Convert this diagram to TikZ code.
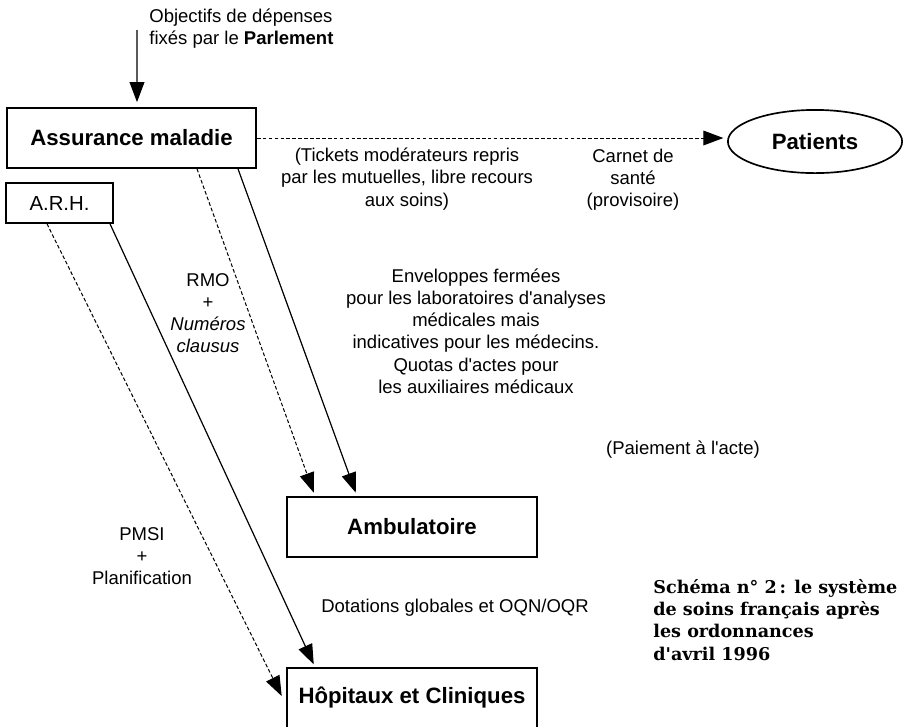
\documentclass[tikz,border=0pt]{standalone}
\usepackage{fontspec}
\setmainfont{Liberation Sans}
\newfontfamily\legende{DejaVu Serif}
\usetikzlibrary{arrows.meta,shapes.geometric,calc}

\begin{document}
\begin{tikzpicture}[x=0.019cm,y=-0.019cm,
    >={Triangle[length=3.8mm,width=2.8mm]},
    boite/.style={draw,line width=0.9pt,inner sep=0pt,font=\large\bfseries},
    txt/.style={align=center,inner sep=0pt},
    tiret/.style={dash pattern=on 2pt off 1.2pt,line width=0.55pt},
    trait/.style={line width=0.65pt}]
    \useasboundingbox (0,0) rectangle (908,726);

    \node[txt,align=left,anchor=west] (obj) at (149,29) {Objectifs de dépenses\\fixés par le \textbf{Parlement}};
    \coordinate (haut) at (137,30);

    \node[boite,minimum width=4.73cm,minimum height=1.14cm] (am) at (131.5,138) {Assurance maladie};
    \node[boite,font=\fontsize{11}{13}\selectfont,minimum width=2.03cm,minimum height=0.76cm] (arh) at (59.5,203) {A.R.H.};
    \node[boite,ellipse,minimum width=3.31cm,minimum height=1.2cm] (pat) at (815,141.5) {Patients};
    \node[boite,minimum width=4.75cm,minimum height=1.14cm] (amb) at (412,527) {Ambulatoire};
    \node[boite,minimum width=4.75cm,minimum height=1.37cm,text depth=0.35cm] (hop) at (412,704) {Hôpitaux et Cliniques};

    \node[txt] (tickets) at (407,179) {(Tickets modérateurs repris\\par les mutuelles, libre recours\\aux soins)};
    \node[txt] (carnet) at (633,180) {Carnet de\\santé\\(provisoire)};
    \node[txt] (rmo) at (208,313) {RMO\\+\\\textit{Numéros}\\\textit{clausus}};
    \node[txt] (env) at (476,331) {Enveloppes fermées\\pour les laboratoires d\textquotesingle analyses\\médicales mais\\indicatives pour les médecins.\\Quotas d\textquotesingle actes pour\\les auxiliaires médicaux};
    \node[txt] (paie) at (683,450) {(Paiement à l\textquotesingle acte)};
    \node[txt] (pmsi) at (142,556) {PMSI\\+\\Planification};
    \node[txt] (dot) at (455,608) {Dotations globales et OQN/OQR};
    \node[txt,align=left,anchor=north west,font=\legende\bfseries\fontsize{9.5}{12}\selectfont] (titre) at (653,579)
        {Schéma n° 2\,: le système\\de soins français après\\les ordonnances\\d\textquotesingle avril 1996};

    % fleches
    \draw[->,trait,shorten >=2.7pt] (haut) -- ($(am.north)+(5.5,0)$);
    \draw[->,tiret,shorten >=2pt] (am.east) -- (am.east -| pat.west);
    \draw[->,tiret,shorten >=2pt] ($(am.south)+(65.5,0)$) -- ($(amb.north)+(-97,0)$);
    \draw[->,trait,shorten >=2pt] ($(am.south)+(106.5,0)$) -- ($(amb.north)+(-55,0)$);
    \draw[->,tiret,shorten >=5.4pt] ($(arh.south)+(-12.5,0)$) -- ($(hop.west)+(0,1)$);
    \draw[->,trait,shorten >=1.6pt] ($(arh.south)+(50.5,0)$) -- ($(hop.north)+(-97,0)$);
\end{tikzpicture}
\end{document}
